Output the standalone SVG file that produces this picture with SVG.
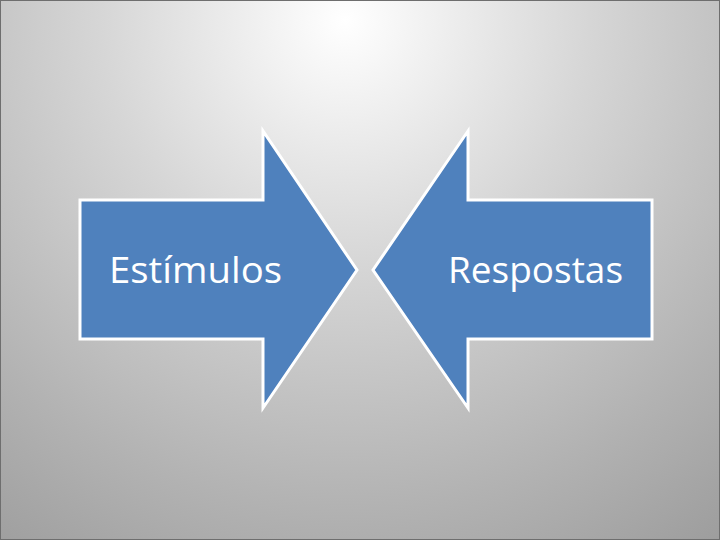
<svg xmlns="http://www.w3.org/2000/svg" width="720" height="540" viewBox="0 0 720 540">
  <defs>
    <radialGradient id="bg" cx="345" cy="20" r="700" fx="345" fy="20" gradientUnits="userSpaceOnUse">
      <stop offset="0" stop-color="#ffffff"/>
      <stop offset="0.35" stop-color="#d6d6d6"/>
      <stop offset="0.7" stop-color="#b2b2b2"/>
      <stop offset="1" stop-color="#959595"/>
    </radialGradient>
  </defs>
  <style>
    .arrow { fill: #4f81bd; stroke: #ffffff; stroke-width: 3; stroke-linejoin: miter; }
    .label { fill: #ffffff; font-family: "Open Sans", "Liberation Sans", sans-serif; font-size: 37px; }
  </style>
  <rect x="0" y="0" width="720" height="540" fill="url(#bg)"/>
  <rect x="0.5" y="0.5" width="719" height="539" fill="none" stroke="#6e6e6e" stroke-width="1"/>
  <g id="estimulos">
    <polygon class="arrow" points="80,200 263,200 263,131 357,270 263,408 263,339 80,339"/>
    <text class="label" x="109" y="283" textLength="173" lengthAdjust="spacingAndGlyphs">Estímulos</text>
  </g>
  <g id="respostas">
    <polygon class="arrow" points="652,200 468,200 468,131 373,270 468,408 468,339 652,339"/>
    <text class="label" x="448" y="283" textLength="175" lengthAdjust="spacingAndGlyphs">Respostas</text>
  </g>
  <g id="connectors"/>
</svg>
